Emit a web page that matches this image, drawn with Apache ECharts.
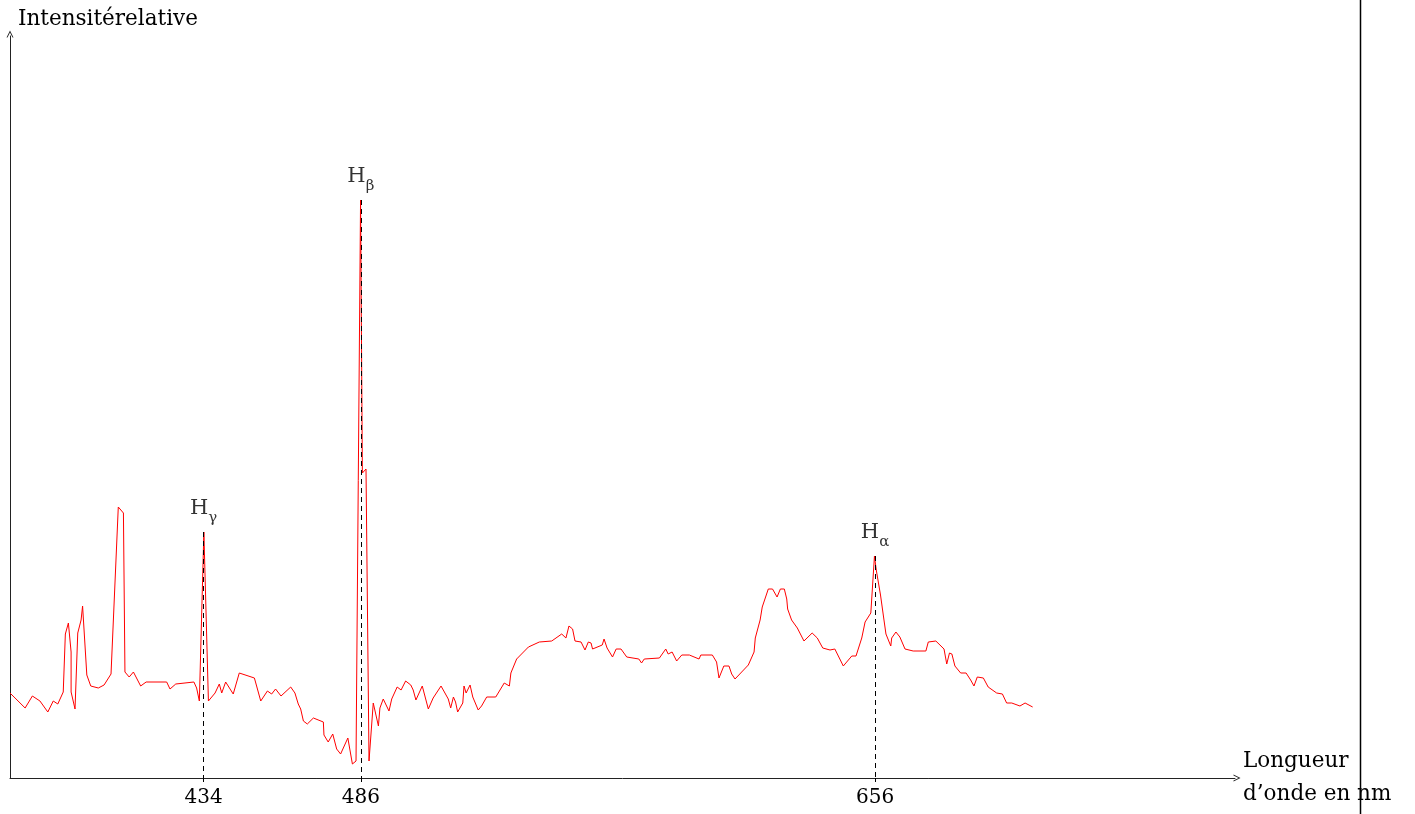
<!DOCTYPE html>
<html>
<head>
<meta charset="utf-8">
<script src="https://cdn.jsdelivr.net/npm/echarts@6.0.0/dist/echarts.min.js"></script>
<style>
html,body{margin:0;padding:0;background:#fff;}
#chart{width:1415px;height:814px;}
</style>
</head>
<body>
<div id="chart"></div>
<script>
// Wavelength (nm) and relative intensity
const wavelength = [370.0,375.0,377.4,379.9,382.5,384.3,385.8,387.6,388.3,388.8,389.3,390.2,390.2,391.5,392.4,393.5,394.0,395.4,396.7,399.2,401.1,403.4,405.8,407.5,408.0,409.4,410.8,413.2,415.0,421.8,422.9,424.8,430.8,431.7,432.6,434.1,435.6,437.8,439.2,440.0,441.3,443.8,445.8,450.8,452.9,455.1,456.5,457.8,459.6,462.8,464.2,465.3,466.1,467.0,468.3,470.3,473.6,473.8,475.2,476.7,478.0,479.3,481.7,483.2,484.4,485.9,486.5,487.7,488.7,490.1,491.8,492.3,493.4,495.3,496.2,498.0,499.3,500.8,502.5,503.3,504.2,506.3,508.3,509.9,512.5,514.9,515.7,516.6,517.3,518.0,519.7,520.1,520.8,522.1,523.0,524.8,525.9,527.6,530.6,533.4,535.1,535.6,537.5,541.4,545.0,549.1,552.4,553.8,554.8,556.0,556.8,558.8,560.1,561.2,562.1,562.6,565.8,566.4,567.4,569.2,570.4,572.0,573.9,577.9,578.8,579.7,584.7,586.8,587.6,588.9,590.4,592.1,594.6,597.8,598.4,602.2,603.6,604.4,606.0,607.7,608.6,609.7,614.1,616.0,616.4,618.0,618.7,620.7,622.1,623.6,624.7,626.0,626.8,627.1,628.4,630.3,632.5,635.2,636.9,638.7,641.1,642.7,645.5,648.3,649.7,651.6,652.7,654.6,655.8,656.4,657.8,658.9,659.6,661.2,661.5,662.9,664.2,665.9,668.6,672.8,673.6,676.1,678.8,679.7,680.6,681.4,682.4,684.3,686.1,687.6,688.7,689.8,691.8,693.4,696.2,698.1,699.5,701.2,703.9,705.6,708.1];
const intensity = [8.5,7.0,8.2,7.7,6.6,7.7,7.4,8.6,14.4,14.4,15.5,12.6,8.6,6.9,14.5,15.8,17.2,10.3,9.2,9.0,9.3,10.4,27.1,26.5,10.6,10.1,10.6,9.2,9.6,9.6,8.9,9.4,9.6,9.0,7.7,24.6,7.7,8.5,9.4,8.5,9.6,8.4,10.5,10.0,7.7,8.7,8.4,8.9,8.2,9.1,8.5,7.4,6.9,5.7,5.4,6.0,5.6,4.3,3.6,4.4,2.9,2.4,4.0,1.4,1.7,57.8,30.5,30.9,1.7,7.5,5.2,7.0,7.9,6.7,7.9,9.1,8.8,9.7,9.3,8.8,7.8,9.2,6.9,8.0,9.2,7.9,7.0,8.1,7.6,6.6,7.5,9.2,8.5,9.3,8.1,6.8,7.2,8.1,8.1,9.5,9.2,10.5,11.9,13.1,13.6,13.7,14.4,14.0,15.2,14.9,13.7,13.6,12.8,13.6,13.5,12.9,13.3,13.9,13.0,12.1,12.9,12.9,12.1,11.9,11.5,11.9,12.0,12.9,12.4,12.6,11.7,12.3,12.3,11.9,12.3,12.3,11.6,10.0,11.2,11.2,10.4,9.9,11.3,12.6,14.0,15.8,17.1,18.9,18.9,18.1,18.9,18.9,17.9,16.9,15.8,15.0,13.7,14.5,14.0,13.0,12.8,12.9,11.2,12.2,12.2,14.0,15.6,16.5,22.2,20.8,18.3,15.9,14.4,13.2,14.0,14.6,14.1,12.9,12.7,12.7,13.6,13.7,12.9,11.4,12.5,12.4,11.2,10.5,10.5,9.8,9.2,10.1,10.0,9.1,8.5,8.4,7.5,7.5,7.2,7.5,7.1];

// Hydrogen lines
const lineNames = ['γ', 'β', 'α'];
const lineWavelength = [434, 486, 656];
const linePeak = [24.6, 57.8, 22.2];
const tickValues = [434, 486, 656];

const xName = 'Longueur\nd’onde en nm';
const yName = 'Intensitérelative';

const FONT = 'DejaVu Serif';
const arrowPath = 'path://M0,10 L5,0 L10,10 L8.6,10 L5,2.8 L1.4,10 Z';

const spectrum = wavelength.map((w, i) => [w, intensity[i]]);

const chart = echarts.init(document.getElementById('chart'), null, {renderer: 'canvas'});
chart.setOption({
  animation: false,
  backgroundColor: '#fff',
  grid: {left: 10, top: 36, width: 1225, height: 742, containLabel: false, outerBoundsMode: 'none'},
  xAxis: {
    type: 'value',
    min: 370,
    max: 775,
    name: xName,
    nameLocation: 'end',
    nameGap: 8,
    nameTextStyle: {fontFamily: FONT, fontSize: 21.5, color: '#000', align: 'left', verticalAlign: 'middle', lineHeight: 33, padding: [6, 0, 0, 0]},
    axisLine: {
      show: true,
      symbol: ['none', arrowPath],
      symbolSize: [7, 7],
      symbolOffset: [0, 2],
      lineStyle: {color: '#222', width: 1}
    },
    axisTick: {show: true, customValues: tickValues, length: 4, lineStyle: {color: '#000'}},
    axisLabel: {show: true, customValues: tickValues, fontFamily: FONT, fontSize: 20, color: '#000', margin: 10},
    splitLine: {show: false}
  },
  yAxis: {
    type: 'value',
    min: 0,
    max: 74.2,
    name: yName,
    nameLocation: 'end',
    nameGap: 6,
    nameTextStyle: {fontFamily: FONT, fontSize: 21.5, color: '#000', align: 'left', padding: [0, 0, 0, 8]},
    axisLine: {
      show: true,
      symbol: ['none', arrowPath],
      symbolSize: [7, 7],
      symbolOffset: [0, 2],
      lineStyle: {color: '#222', width: 1}
    },
    axisTick: {show: false},
    axisLabel: {show: false},
    splitLine: {show: false}
  },
  graphic: [{
    type: 'line',
    shape: {x1: 1360.5, y1: 0, x2: 1360.5, y2: 814},
    style: {stroke: '#000', lineWidth: 1.5},
    z: 10
  }],
  series: [
    {
      type: 'line',
      data: spectrum,
      showSymbol: false,
      symbol: 'none',
      lineStyle: {color: '#ff0000', width: 1},
      z: 3,
      markLine: {
        silent: true,
        symbol: ['none', 'none'],
        label: {show: false},
        lineStyle: {color: '#000', type: [5, 4], width: 1},
        data: lineWavelength.map((w, i) => [
          {coord: [w, linePeak[i]]},
          {coord: [w, 0]}
        ])
      }
    },
    {
      type: 'scatter',
      data: lineWavelength.map((w, i) => ({value: [w, linePeak[i]], name: lineNames[i]})),
      symbolSize: 1,
      itemStyle: {color: 'rgba(0,0,0,0)'},
      silent: true,
      label: {
        show: true,
        position: 'top',
        distance: 6,
        color: '#000',
        formatter: p => '{h|H}{s|' + p.name + '}',
        rich: {
          h: {fontFamily: FONT, fontSize: 21, color: '#000', verticalAlign: 'bottom', padding: [0, 0, 6, 0]},
          s: {fontFamily: FONT, fontSize: 15, color: '#000', verticalAlign: 'bottom'}
        }
      },
      z: 5
    }
  ]
});
</script>
</body>
</html>
